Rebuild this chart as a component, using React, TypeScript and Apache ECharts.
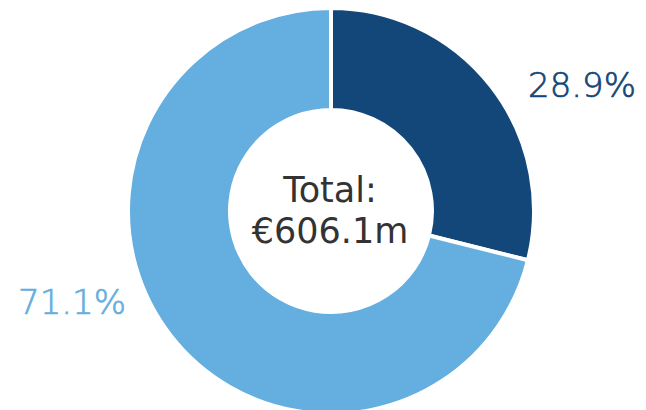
import React, { useEffect, useRef } from "react";
import * as echarts from "echarts";

const categories = ["Segment A", "Segment B"];
const values = [28.9, 71.1];
const labels = ["28.9%", "71.1%"];
const colors = ["#134779", "#65aee0"];
const totalLines = ["Total:", "€606.1m"];

export default function App() {
  const ref = useRef<HTMLDivElement>(null);
  useEffect(() => {
    const chart = echarts.init(ref.current!, null, { renderer: "svg" });
    const labelPos = [
      { x: 582, y: 85 },
      { x: 72, y: 302 },
    ];
    chart.setOption({
      animation: false,
      backgroundColor: "#ffffff",
      series: [
        {
          type: "pie",
          center: [331, 211],
          radius: [101, 203],
          startAngle: 90,
          clockwise: true,
          itemStyle: { borderColor: "#ffffff", borderWidth: 4 },
          label: {
            show: true,
            position: "outside",
            formatter: (p: any) => labels[p.dataIndex],
            fontFamily: "DejaVu Sans",
            fontWeight: 200,
            fontSize: 34,
            overflow: "none",
            textBorderWidth: 0.7,
          },
          labelLine: { show: false },
          labelLayout: (p: any) => ({
            x: labelPos[p.dataIndex].x,
            y: labelPos[p.dataIndex].y,
            align: "center",
            verticalAlign: "middle",
          }),
          emphasis: { disabled: true },
          data: categories.map((c, i) => ({
            name: c,
            value: values[i],
            itemStyle: { color: colors[i] },
            label: { color: colors[i], textBorderColor: colors[i] },
          })),
        },
      ],
      graphic: [
        {
          type: "text",
          x: 330,
          y: 210,
          z: 100,
          style: {
            text: totalLines.join("\n"),
            textAlign: "center",
            textVerticalAlign: "middle",
            fill: "#333333",
            fontFamily: "DejaVu Sans",
            fontSize: 35,
            lineHeight: 41,
          },
        },
      ],
    });
    return () => chart.dispose();
  }, []);
  return (
    <div
      ref={ref}
      style={{ position: "fixed", left: 0, top: 0, width: 646, height: 410 }}
    />
  );
}
